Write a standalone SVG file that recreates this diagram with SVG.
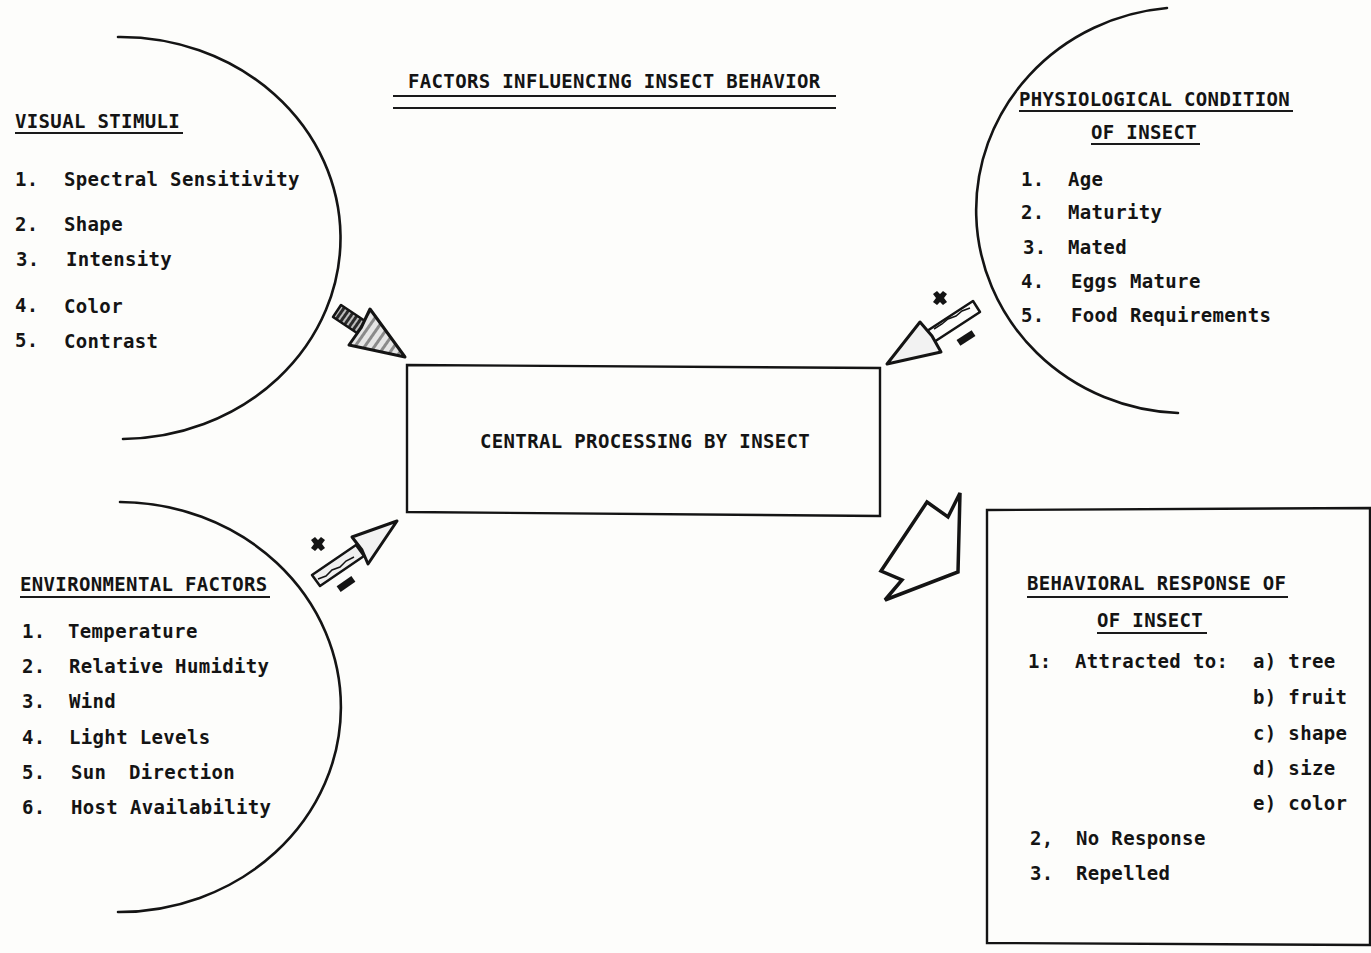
<svg xmlns="http://www.w3.org/2000/svg" width="1371" height="953" viewBox="0 0 1371 953">
<style>
  .t { font-family: "DejaVu Sans Mono", "Liberation Mono", monospace; font-size: 19px; font-weight: bold; letter-spacing: 0.35px; fill: #141414; }
  .arc { fill: none; stroke: #141414; stroke-width: 2.6; stroke-linecap: round; }
  .ul { stroke: #1a1a1a; stroke-width: 2; }
  .box { fill: none; stroke: #141414; stroke-width: 2.4; }
  .shaft { stroke: #141414; stroke-width: 2.5; stroke-linejoin: round; }
  .head { stroke: #141414; stroke-width: 3; stroke-linejoin: round; }
  .mark { fill: #141414; }
</style>
<defs>
  <pattern id="hatch" width="5" height="5" patternUnits="userSpaceOnUse" patternTransform="rotate(35)">
    <rect width="5" height="5" fill="#2a2a2a"/>
    <rect width="2" height="5" fill="#bdbdbd"/>
  </pattern>
  <pattern id="speck" width="8" height="8" patternUnits="userSpaceOnUse" patternTransform="rotate(35)">
    <rect width="8" height="8" fill="#e6e6e6"/>
    <rect width="3" height="8" fill="#8a8a8a"/>
  </pattern>
</defs>
<rect width="1371" height="953" fill="#fdfdfb"/>

<g id="title">
  <text class="t" x="408" y="88">FACTORS INFLUENCING INSECT BEHAVIOR</text>
  <line class="ul" x1="393" y1="96" x2="836" y2="96"/>
  <line class="ul" x1="393" y1="108" x2="836" y2="108"/>
</g>

<g id="visual-stimuli">
  <path class="arc" d="M118,37 A220,201 0 0 1 123,439"/>
  <text class="t" x="15" y="128">VISUAL STIMULI</text>
  <line class="ul" x1="15" y1="133" x2="183" y2="133"/>
  <text class="t" x="15" y="186">1.</text><text class="t" x="64" y="186">Spectral Sensitivity</text>
  <text class="t" x="15" y="231">2.</text><text class="t" x="64" y="231">Shape</text>
  <text class="t" x="16" y="266">3.</text><text class="t" x="66" y="266">Intensity</text>
  <text class="t" x="15" y="312">4.</text><text class="t" x="64" y="313">Color</text>
  <text class="t" x="15" y="347">5.</text><text class="t" x="64" y="348">Contrast</text>
</g>

<g id="environmental-factors">
  <path class="arc" d="M120,502 A222,205 0 0 1 118,912"/>
  <text class="t" x="20" y="591">ENVIRONMENTAL FACTORS</text>
  <line class="ul" x1="20" y1="597" x2="270" y2="597"/>
  <text class="t" x="22" y="638">1.</text><text class="t" x="68" y="638">Temperature</text>
  <text class="t" x="22" y="673">2.</text><text class="t" x="69" y="673">Relative Humidity</text>
  <text class="t" x="22" y="708">3.</text><text class="t" x="69" y="708">Wind</text>
  <text class="t" x="22" y="744">4.</text><text class="t" x="69" y="744">Light Levels</text>
  <text class="t" x="22" y="779">5.</text><text class="t" x="71" y="779">Sun</text><text class="t" x="129" y="779">Direction</text>
  <text class="t" x="22" y="814">6.</text><text class="t" x="71" y="814">Host Availability</text>
</g>

<g id="physiological-condition">
  <path class="arc" d="M1167,8 A210,203 0 0 0 1178,413"/>
  <text class="t" x="1019" y="106">PHYSIOLOGICAL CONDITION</text>
  <line class="ul" x1="1019" y1="111" x2="1293" y2="111"/>
  <text class="t" x="1091" y="139">OF INSECT</text>
  <line class="ul" x1="1091" y1="144" x2="1200" y2="144"/>
  <text class="t" x="1021" y="186">1.</text><text class="t" x="1068" y="186">Age</text>
  <text class="t" x="1021" y="219">2.</text><text class="t" x="1068" y="219">Maturity</text>
  <text class="t" x="1023" y="254">3.</text><text class="t" x="1068" y="254">Mated</text>
  <text class="t" x="1021" y="288">4.</text><text class="t" x="1071" y="288">Eggs Mature</text>
  <text class="t" x="1021" y="322">5.</text><text class="t" x="1071" y="322">Food Requirements</text>
</g>

<g id="central-processing">
  <polygon class="box" points="407,365 880,368 880,516 407,512"/>
  <text class="t" x="480" y="448">CENTRAL PROCESSING BY INSECT</text>
</g>

<g id="behavioral-response">
  <polygon class="box" points="987,510 1370,508 1370,945 987,943"/>
  <text class="t" x="1027" y="590">BEHAVIORAL RESPONSE OF</text>
  <line class="ul" x1="1027" y1="597" x2="1288" y2="597"/>
  <text class="t" x="1097" y="627">OF INSECT</text>
  <line class="ul" x1="1097" y1="633" x2="1207" y2="633"/>
  <text class="t" x="1028" y="668">1:</text><text class="t" x="1075" y="668">Attracted to:</text>
  <text class="t" x="1253" y="668">a) tree</text>
  <text class="t" x="1253" y="704">b) fruit</text>
  <text class="t" x="1253" y="740">c) shape</text>
  <text class="t" x="1253" y="775">d) size</text>
  <text class="t" x="1253" y="810">e) color</text>
  <text class="t" x="1030" y="845">2,</text><text class="t" x="1076" y="845">No Response</text>
  <text class="t" x="1030" y="880">3.</text><text class="t" x="1076" y="880">Repelled</text>
</g>

<g id="connectors">
  <!-- visual stimuli -> central -->
  <g id="arrow-visual">
    <polygon class="shaft" fill="url(#hatch)" points="341,305 368,323 360,335 333,317"/>
    <polygon class="head" fill="url(#speck)" points="370,309 405,357 349,345 361,328"/>
  </g>
  <!-- physiological -> central -->
  <g id="arrow-physio">
    <polygon class="shaft" fill="#fdfdfb" points="973,301 980,312 934,342 927,331"/>
    <polyline fill="none" stroke="#141414" stroke-width="1.5" points="970,308 962,311 956,316 948,319 942,324 934,329"/>
    <polygon class="head" fill="#f2f2f2" points="920,322 932,336 941,352 887,364"/>
    <path class="mark" d="M933,294 l4,-3 l3,3 l3,-3 l4,3 l-3,4 l3,4 l-4,3 l-3,-3 l-3,3 l-4,-3 l3,-4 z"/>
    <rect class="mark" x="-9" y="-3.5" width="18" height="7" transform="translate(966,338) rotate(-33)"/>
  </g>
  <!-- environmental -> central -->
  <g id="arrow-env">
    <polygon class="shaft" fill="#f0f0f0" points="312,575 356,545 364,556 320,586"/>
    <polyline fill="none" stroke="#141414" stroke-width="1.5" points="318,579 326,576 332,570 340,567 346,561 354,557"/>
    <polygon class="head" fill="#f2f2f2" points="352,537 397,521 368,564 362,550"/>
    <path class="mark" d="M311,540 l4,-3 l3,3 l3,-3 l4,3 l-3,4 l3,4 l-4,3 l-3,-3 l-3,3 l-4,-3 l3,-4 z"/>
    <rect class="mark" x="-9" y="-3.5" width="18" height="7" transform="translate(346,584) rotate(-35)"/>
  </g>
  <!-- central -> behavioral response -->
  <polygon id="arrow-response" fill="none" stroke="#141414" stroke-width="3.5" stroke-linejoin="miter" points="885,600 902,580 881,571 927,502 948,517 960,493 958,572"/>
</g>
</svg>
